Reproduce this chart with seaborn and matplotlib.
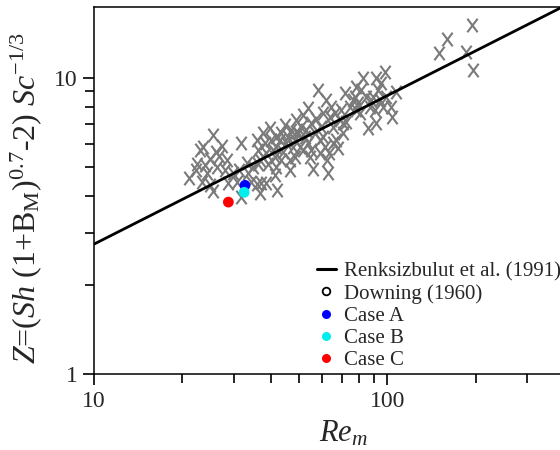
import numpy as np
import pandas as pd
import matplotlib
matplotlib.use("Agg")
import matplotlib.pyplot as plt
from matplotlib.lines import Line2D
from matplotlib.path import Path
from matplotlib.ticker import LogLocator, NullFormatter, FixedLocator
import seaborn as sns

# ---------------- data ----------------
downing_re = [21.1, 22.9, 23.5, 22.5, 22.2, 23.9, 24.3, 25.5, 24.9, 26.0,
              27.2, 26.7, 26.3, 27.9, 28.3, 23.4, 25.5, 24.8, 28.6, 29.8,
              31.8, 31.2, 33.1, 31.6, 30.6, 34.4, 35.8, 37.2, 38.5, 36.7,
              42.2, 41.3, 33.5, 35.8, 36.2, 36.7, 37.7, 38.2, 38.7, 39.2,
              39.7, 40.2, 40.8, 41.3, 41.8, 42.9, 43.5, 44.1, 44.7, 45.3,
              45.8, 46.5, 47.1, 47.7, 48.3, 48.9, 49.6, 50.2, 50.9, 51.6,
              52.3, 52.9, 53.6, 54.3, 55.1, 55.8, 56.5, 57.3, 58.0, 58.8,
              59.5, 60.3, 61.1, 61.9, 62.3, 62.7, 63.1, 63.6, 64.4, 65.3,
              66.1, 67.0, 67.9, 68.8, 69.7, 70.6, 71.5, 72.5, 74.4, 76.3,
              77.4, 78.4, 79.4, 80.4, 81.5, 82.6, 85.9, 87.0, 88.2, 89.3,
              90.5, 91.2, 91.7, 92.9, 94.1, 95.3, 96.6, 97.9, 99.2, 103.1,
              103.9, 107.2, 48.3, 46.5, 41.8, 43.5, 51.6, 53.6, 58.8, 60.3,
              41.8, 37.7, 34.8, 36.2, 48.9, 55.1, 65.3, 70.6, 78.4, 84.8,
              195.0, 160.3, 150.1, 185.0, 195.5]
downing_z = [4.61, 5.70, 5.85, 5.14, 4.88, 5.08, 4.76, 6.41, 5.31, 5.63,
             5.90, 5.45, 5.01, 4.88, 5.28, 4.46, 4.16, 4.35, 4.42, 4.78,
             6.04, 4.88, 5.17, 3.95, 4.46, 4.46, 4.40, 4.42, 4.42, 4.09,
             4.18, 4.70, 4.76, 6.16, 5.70, 5.28, 6.49, 6.01, 5.56, 5.14,
             6.75, 6.16, 5.70, 5.42, 5.85, 6.16, 6.49, 5.63, 6.93, 6.01,
             6.33, 5.28, 6.66, 5.85, 6.16, 7.20, 6.49, 5.85, 6.84, 7.48,
             6.33, 6.66, 7.88, 5.42, 7.02, 4.94, 6.49, 7.29, 9.09, 6.16,
             6.84, 7.58, 5.85, 8.41, 5.28, 4.76, 5.56, 7.39, 7.99, 6.84,
             7.58, 6.16, 5.78, 7.20, 7.78, 7.02, 8.91, 7.11, 7.99, 8.41,
             8.63, 9.33, 8.20, 7.58, 9.09, 9.95, 6.75, 7.99, 8.41, 8.63,
             7.78, 10.0, 7.02, 9.09, 8.41, 9.57, 7.99, 10.48, 8.63, 7.99,
             7.39, 8.97, 5.42, 4.88, 5.01, 5.28, 5.70, 6.01, 5.56, 6.33,
             6.33, 5.42, 5.01, 5.14, 6.58, 5.70, 6.01, 6.49, 7.78, 8.63,
             15.05, 13.47, 12.17, 12.24, 10.61]

# Renksizbulut et al. (1991) correlation line, read at its two ends
line_re = [10.0, 500.0]
line_z = [2.75, 19.5]

case_labels = ["Case A", "Case B", "Case C"]
case_re = [32.7, 32.5, 28.7]
case_z = [4.34, 4.11, 3.81]
case_colors = ["#0000ff", "#00eeee", "#ff0000"]

line_label = "Renksizbulut et al. (1991)"
downing_label = "Downing (1960)"

# ---------------- style ----------------
sns.set_style("ticks")
plt.rcParams["font.family"] = ["Liberation Serif", "DejaVu Serif"]
plt.rcParams["mathtext.fontset"] = "custom"
plt.rcParams["mathtext.rm"] = "Liberation Serif"
plt.rcParams["mathtext.it"] = "Liberation Serif:italic"
plt.rcParams["mathtext.bf"] = "Liberation Serif:bold"

fig = plt.figure(figsize=(5.6, 4.5), dpi=100)
# the axes run past the right edge of the picture (the chart is cropped there)
ax = fig.add_axes([0.168, 0.168, 0.892, 0.816])

df_d = pd.DataFrame({"Re": downing_re, "Z": downing_z})
df_l = pd.DataFrame({"Re": line_re, "Z": line_z})
df_c = pd.DataFrame({"Re": case_re, "Z": case_z, "case": case_labels})

# letter-like X marker (a little taller than wide)
x_marker = Path([(-0.38, -0.5), (0.38, 0.5), (-0.38, 0.5), (0.38, -0.5)],
                [Path.MOVETO, Path.LINETO, Path.MOVETO, Path.LINETO])

sns.lineplot(data=df_l, x="Re", y="Z", ax=ax, color="black", linewidth=2.0,
             legend=False, zorder=3)
sns.scatterplot(data=df_d, x="Re", y="Z", ax=ax, marker=x_marker,
                color="#7a7a7a", edgecolor="#7a7a7a", s=95, linewidth=1.5,
                legend=False, zorder=2)
sns.scatterplot(data=df_c, x="Re", y="Z", hue="case", palette=case_colors,
                ax=ax, s=60, linewidth=0, legend=False, zorder=4)

ax.set_xscale("log")
ax.set_yscale("log")
ax.set_xlim(10, 505)
ax.set_ylim(1, 17.3)

ax.xaxis.set_major_locator(FixedLocator([10, 100]))
ax.xaxis.set_minor_locator(LogLocator(base=10, subs=np.arange(2, 10)))
ax.yaxis.set_major_locator(FixedLocator([1, 10]))
ax.yaxis.set_minor_locator(LogLocator(base=10, subs=np.arange(2, 10)))
ax.xaxis.set_minor_formatter(NullFormatter())
ax.yaxis.set_minor_formatter(NullFormatter())
ax.set_xticklabels(["10", "100"])
ax.set_yticklabels(["1", "10"])

ax.tick_params(which="major", direction="out", length=8, width=1.2,
               labelsize=17, color="black", pad=4, top=False, right=False)
ax.tick_params(which="minor", direction="out", length=6.5, width=1.2,
               color="black", top=False, right=False)

for side in ["left", "bottom", "top", "right"]:
    ax.spines[side].set_visible(True)
    ax.spines[side].set_linewidth(1.1)
    ax.spines[side].set_color("black")

ax.set_xlabel(r"$Re_m$", fontsize=22, labelpad=5)
ax.set_ylabel(r"$Z$=($Sh$ (1+B$_\mathrm{M}$)$^{0.7}$-2) $Sc^{-1/3}$",
              fontsize=23)
ax.yaxis.set_label_coords(-0.101, 0.48)

handles = [
    Line2D([0], [0], color="black", linewidth=2.2),
    Line2D([0], [0], linestyle="none", marker="o", markersize=5.5,
           markerfacecolor="white", markeredgecolor="black", markeredgewidth=1.3),
    Line2D([0], [0], linestyle="none", marker="o", markersize=6.5,
           markerfacecolor=case_colors[0], markeredgewidth=0),
    Line2D([0], [0], linestyle="none", marker="o", markersize=6.5,
           markerfacecolor=case_colors[1], markeredgewidth=0),
    Line2D([0], [0], linestyle="none", marker="o", markersize=6.5,
           markerfacecolor=case_colors[2], markeredgewidth=0),
]
labels = [line_label, downing_label] + case_labels
ax.legend(handles, labels, loc="upper left", bbox_to_anchor=(0.566, 0.418),
          bbox_transform=fig.transFigure, frameon=False, fontsize=15,
          handlelength=0.9, handletextpad=0.4, labelspacing=0.12,
          borderpad=0.0, borderaxespad=0.0)

fig.savefig("out.png", dpi=100)
